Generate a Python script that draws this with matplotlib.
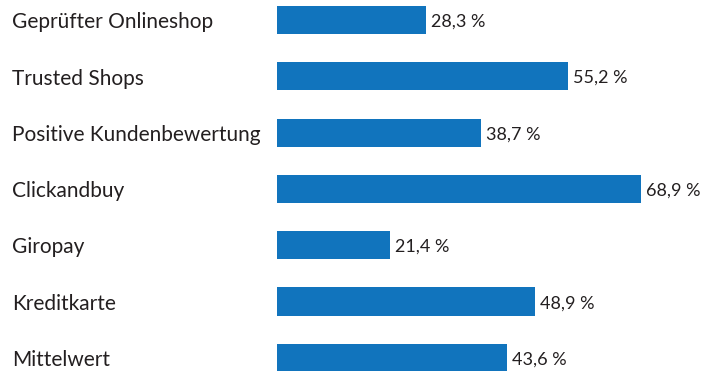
import matplotlib.pyplot as plt
from matplotlib.transforms import blended_transform_factory

categories = ["Geprüfter Onlineshop", "Trusted Shops", "Positive Kundenbewertung",
              "Clickandbuy", "Giropay", "Kreditkarte", "Mittelwert"]
values = [28.3, 55.2, 38.7, 68.9, 21.4, 48.9, 43.6]
value_labels = ["28,3 %", "55,2 %", "38,7 %", "68,9 %", "21,4 %", "48,9 %", "43,6 %"]

W, H = 701, 371
bar_color = "#1174bd"
text_color = "#231f20"
plt.rcParams['font.family'] = ['Lato', 'DejaVu Sans']

fig = plt.figure(figsize=(W / 100, H / 100), dpi=100)
# bars start at ~277 px, about 5.28 px per percent
left_px = 277
px_per_pct = 5.28
ax = fig.add_axes([left_px / W, 0, 1 - left_px / W, 1])
ax.set_xlim(0, (W - left_px) / px_per_pct)

row_px = 56.3
top_px = 20
ax.set_ylim((H - top_px) / row_px, -top_px / row_px)

pos = list(range(len(categories)))
ax.barh(pos, values, height=0.5, color=bar_color)

for p, v, lab in zip(pos, values, value_labels):
    ax.text(v + 5 / px_per_pct, p + 0.03, lab, va='center', ha='left',
            fontsize=13, color=text_color)

tr = blended_transform_factory(fig.transFigure, ax.transData)
for p, cat in zip(pos, categories):
    ax.text(12 / W, p + 0.04, cat, transform=tr, va='center', ha='left',
            fontsize=15, color=text_color)

ax.axis('off')
fig.savefig("out.png", dpi=100)
